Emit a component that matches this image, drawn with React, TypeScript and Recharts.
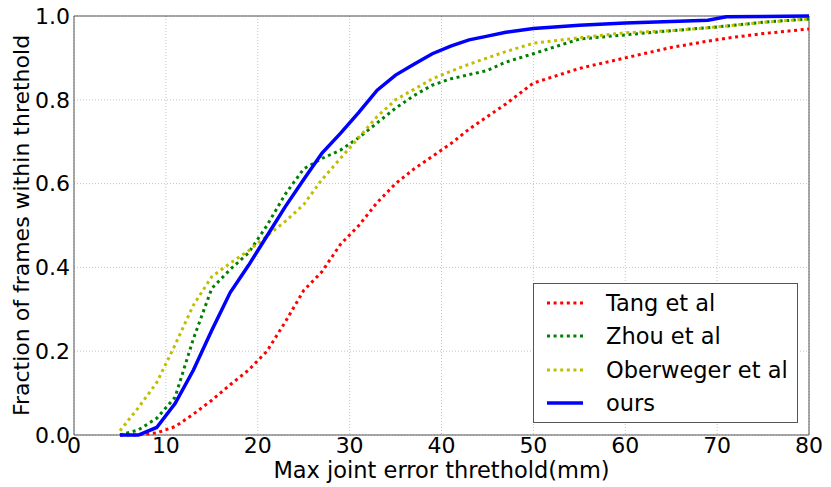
import React from "react"
import {
  CartesianGrid,
  Legend,
  Line,
  LineChart,
  ReferenceArea,
  XAxis,
  YAxis,
} from "recharts"

// error thresholds (mm) the curves were sampled at
const thresholds = [5, 7, 9, 11, 13, 15, 17, 19, 21, 23, 25, 27, 29, 31, 33, 35, 37, 39, 41, 43, 45, 47, 50, 55, 60, 65, 69, 71, 75, 80]

const tang = [0, 0, 0.005, 0.02, 0.05, 0.083, 0.12, 0.155, 0.2, 0.27, 0.345, 0.39, 0.455, 0.5, 0.555, 0.6, 0.635, 0.665, 0.695, 0.73, 0.76, 0.79, 0.84, 0.875, 0.9, 0.925, 0.94, 0.947, 0.958, 0.969]
const zhou = [0, 0.012, 0.04, 0.09, 0.23, 0.35, 0.395, 0.435, 0.5, 0.575, 0.635, 0.66, 0.68, 0.71, 0.745, 0.78, 0.81, 0.835, 0.85, 0.86, 0.87, 0.89, 0.91, 0.945, 0.955, 0.965, 0.972, 0.976, 0.985, 0.993]
const oberweger = [0.01, 0.065, 0.125, 0.215, 0.31, 0.378, 0.41, 0.44, 0.475, 0.51, 0.55, 0.61, 0.66, 0.71, 0.76, 0.8, 0.825, 0.85, 0.868, 0.885, 0.9, 0.915, 0.935, 0.948, 0.96, 0.965, 0.972, 0.976, 0.985, 0.993]
const ours = [0, 0, 0.018, 0.075, 0.155, 0.25, 0.34, 0.405, 0.475, 0.545, 0.61, 0.673, 0.72, 0.77, 0.823, 0.859, 0.885, 0.91, 0.928, 0.943, 0.952, 0.961, 0.97, 0.978, 0.983, 0.987, 0.99, 0.998, 0.999, 1.0]

const xTicks = [0, 10, 20, 30, 40, 50, 60, 70, 80]
const yTicks = [0, 0.2, 0.4, 0.6, 0.8, 1.0]

const FONT = "'DejaVu Sans', sans-serif"
const DOTS = "3 3.6"

const series = [
  { key: "tang", name: "Tang et al", color: "#ff0000", dash: DOTS },
  { key: "zhou", name: "Zhou et al", color: "#008000", dash: DOTS },
  { key: "oberweger", name: "Oberweger et al", color: "#bfbf00", dash: DOTS },
  { key: "ours", name: "ours", color: "#0000ff", dash: undefined },
]

const data = thresholds.map((t, i) => ({
  t,
  tang: tang[i],
  zhou: zhou[i],
  oberweger: oberweger[i],
  ours: ours[i],
}))

function LegendBox() {
  return (
    <div
      style={{
        boxSizing: "border-box",
        width: 265,
        height: 140,
        border: "1px solid #555",
        background: "#fff",
        paddingTop: 2,
        paddingLeft: 13,
        fontFamily: FONT,
        fontSize: 22.5,
        color: "#000",
      }}
    >
      {series.map((s) => (
        <div key={s.key} style={{ display: "flex", alignItems: "center", height: 33.5 }}>
          <svg width={36} height={8} style={{ marginRight: 23 }}>
            <line
              x1={0}
              y1={4}
              x2={36}
              y2={4}
              stroke={s.color}
              strokeWidth={s.dash ? 3 : 3.5}
              strokeDasharray={s.dash}
            />
          </svg>
          <span style={{ lineHeight: 1 }}>{s.name}</span>
        </div>
      ))}
    </div>
  )
}

export default function App() {
  const tick = { fontFamily: FONT, fontSize: 22, fill: "#000" }
  return (
    <div style={{ position: "absolute", left: 0, top: 0, background: "#fff" }}>
      <LineChart width={831} height={487} data={data} margin={{ top: 16, right: 22, bottom: 0, left: 0 }}>
        <CartesianGrid stroke="#c4c4c4" strokeDasharray="1 2" horizontalValues={yTicks} verticalValues={xTicks} />
        <XAxis
          dataKey="t"
          type="number"
          domain={[0, 80]}
          ticks={xTicks}
          height={52}
          tick={tick}
          tickLine={false}
          tickSize={0}
          tickMargin={2}
          axisLine={false}
          label={{
            value: "Max joint error threthold(mm)",
            position: "insideBottom",
            offset: 9,
            style: { fontFamily: FONT, fontSize: 22.5, fill: "#000" },
          }}
        />
        <YAxis
          type="number"
          domain={[0, 1]}
          ticks={yTicks}
          width={74}
          tick={tick}
          tickFormatter={(v: number) => v.toFixed(1)}
          tickLine={false}
          tickSize={0}
          tickMargin={4}
          axisLine={false}
          label={{
            value: "Fraction of frames within threthold",
            angle: -90,
            position: "insideLeft",
            offset: 21,
            style: { fontFamily: FONT, fontSize: 22, fill: "#000", textAnchor: "middle" },
          }}
        />
        <ReferenceArea x1={0} x2={80} y1={0} y2={1} fill="none" stroke="#555" strokeWidth={1} />
        {series.map((s) => (
          <Line
            key={s.key}
            dataKey={s.key}
            name={s.name}
            type="linear"
            stroke={s.color}
            strokeWidth={s.dash ? 3 : 3.5}
            strokeDasharray={s.dash}
            dot={false}
            activeDot={false}
            isAnimationActive={false}
          />
        ))}
        <Legend
          layout="vertical"
          align="center"
          verticalAlign="middle"
          content={() => <LegendBox />}
          wrapperStyle={{ left: 533, top: 283, width: 265, height: 140 }}
        />
      </LineChart>
    </div>
  )
}
